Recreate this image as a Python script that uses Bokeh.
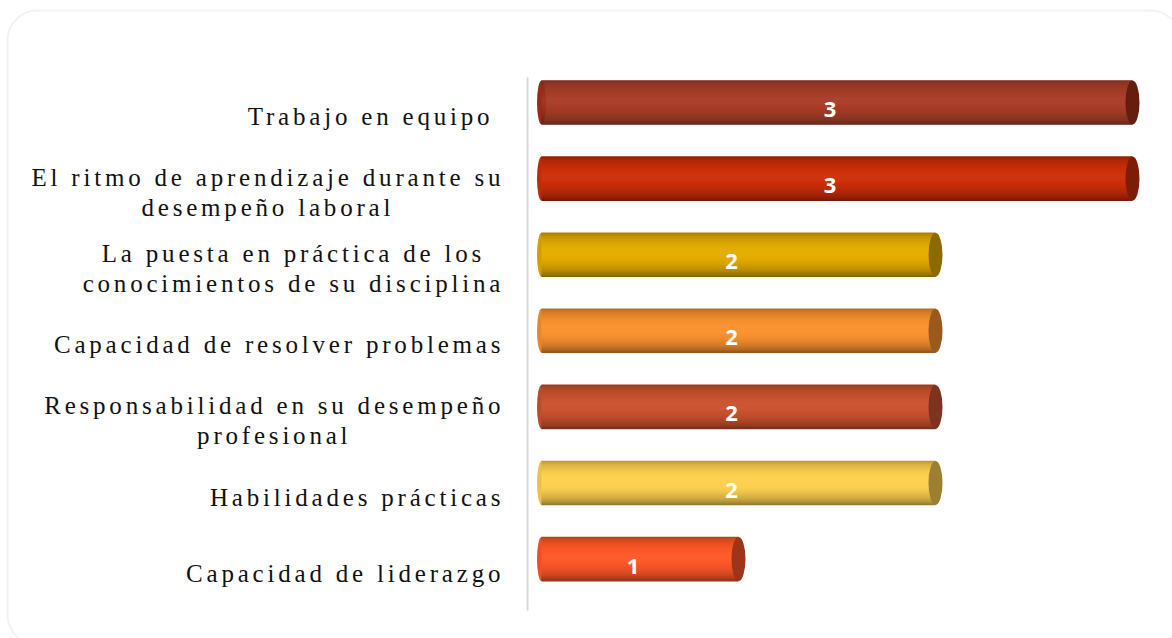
from bokeh.plotting import figure
from bokeh.models import Range1d, BoxAnnotation, LinearAxis, ColumnDataSource, FixedTicker
from bokeh.core.properties import value
from bokeh.embed import file_html
from bokeh.resources import INLINE

# ---- data ----
categories = [
    "Trabajo en equipo ",
    "El ritmo de aprendizaje durante su\ndesempeño laboral",
    "La puesta en práctica de los\nconocimientos de su disciplina",
    "Capacidad de resolver problemas",
    "Responsabilidad en su desempeño\nprofesional",
    "Habilidades prácticas",
    "Capacidad de liderazgo",
]
values = [3, 3, 2, 2, 2, 2, 1]
value_labels = ["3", "3", "2", "2", "2", "2", "1"]
bar_colors = ["#A3301A", "#CC2F0A", "#E3AC00", "#F99230", "#CB5330", "#FDD050", "#FE5828"]

# ---- layout constants (pixels) ----
W, H = 1172, 638
X0_PX, UNIT_PX = 541, 197.0
Y0_PX, STEP_PX = 102, 76.1
BAR_PX = 44
LABEL_FONT_PX = 25
LETTER_SP = 3.8
LABEL_RIGHT_PX = 500
LINE_GAP_PX = 30
BASELINE_SHIFT_PX = 14

def xd(px):
    return (px - X0_PX) / UNIT_PX

def yd(py):
    return (py - Y0_PX) / STEP_PX

# Times / Liberation Serif advance widths (1/1000 em) for measuring labels
TIMES_W = {
    " ": 250, "a": 444, "b": 500, "c": 444, "d": 500, "e": 444, "f": 333, "g": 500,
    "h": 500, "i": 278, "j": 278, "k": 500, "l": 278, "m": 778, "n": 500, "o": 500,
    "p": 500, "q": 500, "r": 333, "s": 389, "t": 278, "u": 500, "v": 500, "w": 722,
    "x": 500, "y": 500, "z": 444, "á": 444, "é": 444, "í": 278, "ó": 500, "ú": 500,
    "ñ": 500, "C": 667, "E": 611, "H": 722, "L": 611, "R": 667, "T": 611,
}

def text_px(s):
    return sum(TIMES_W.get(ch, 500) for ch in s) * LABEL_FONT_PX / 1000.0 + LETTER_SP * (len(s) - 1)

ypos = list(range(len(categories)))
bar_h = BAR_PX / STEP_PX

p = figure(width=W, height=H, output_backend="svg", toolbar_location=None,
           x_axis_location=None, y_axis_location=None,
           x_range=Range1d(xd(0), xd(W)), y_range=Range1d(yd(H), yd(0)),
           min_border=0, min_border_left=0, min_border_right=0,
           min_border_top=0, min_border_bottom=0)
p.outline_line_color = None
p.background_fill_color = "white"
p.border_fill_color = "white"
p.xgrid.grid_line_color = None
p.ygrid.grid_line_color = None
p.styles = {"letter-spacing": "%.1fpx" % LETTER_SP}

def shade(hexc, f):
    r, g, b = int(hexc[1:3], 16), int(hexc[3:5], 16), int(hexc[5:7], 16)
    if f >= 1:
        t = f - 1
        r, g, b = r + (255 - r) * t, g + (255 - g) * t, b + (255 - b) * t
    else:
        r, g, b = r * f, g * f, b * f
    return "#%02x%02x%02x" % (int(max(0, min(255, r))), int(max(0, min(255, g))), int(max(0, min(255, b))))

# left end caps
p.ellipse(x=[0] * len(values), y=ypos, width=xd(X0_PX + 9) - xd(X0_PX), height=bar_h,
          fill_color=[shade(c, 0.93) for c in bar_colors], line_color=None)

# cylinder body as smooth gradient strips (shading profile top -> bottom)
keys = [(0.0, 0.72), (0.08, 0.85), (0.25, 0.97), (0.42, 1.03), (0.55, 1.02),
        (0.7, 0.95), (0.85, 0.83), (0.95, 0.69), (1.0, 0.57)]

def profile(t):
    for (t0, f0), (t1, f1) in zip(keys[:-1], keys[1:]):
        if t0 <= t <= t1:
            return f0 + (f1 - f0) * (t - t0) / (t1 - t0)
    return keys[-1][1]

n = 44
sh = bar_h / n
for k in range(n):
    t = (k + 0.5) / n
    f = profile(t)
    off = -bar_h / 2 + (k + 0.5) * sh
    src = ColumnDataSource(dict(
        y=[yy + off for yy in ypos],
        right=values,
        color=[shade(c, f) for c in bar_colors],
    ))
    p.hbar(y="y", height=sh * 1.6, left=0, right="right", fill_color="color",
           line_color=None, source=src)

# right end caps
p.ellipse(x=values, y=ypos, width=xd(X0_PX + 14) - xd(X0_PX), height=bar_h,
          fill_color=[shade(c, 0.62) for c in bar_colors], line_color=None)

# value labels
p.text(x=[v / 2 for v in values], y=ypos, text=value_labels,
       text_color="white", text_font=value("Open Sans"), text_font_style="bold",
       text_font_size="22px", text_align="center", text_baseline="middle",
       x_offset=-7, y_offset=7)

# category labels: each block right-aligned, its lines centred under each other
lx, ly, lt, loff = [], [], [], []
for i, cat in enumerate(categories):
    lines = cat.split("\n")
    widths = [text_px(s) for s in lines]
    block_w = max(widths)
    centre_px = LABEL_RIGHT_PX - block_w / 2
    nl = len(lines)
    for j, (s, w) in enumerate(zip(lines, widths)):
        lx.append(xd(centre_px - w / 2))
        ly.append(ypos[i])
        lt.append(s)
        loff.append(BASELINE_SHIFT_PX + (j - (nl - 1) / 2) * LINE_GAP_PX)
lsrc = ColumnDataSource(dict(x=lx, y=ly, text=lt, yoff=loff))
p.text(x="x", y="y", text="text", y_offset="yoff", source=lsrc,
       text_align="left", text_baseline="alphabetic",
       text_font=value("Liberation Serif"), text_font_size="%dpx" % LABEL_FONT_PX,
       text_color="#111111")

# vertical axis line
ax = LinearAxis(fixed_location=xd(527), bounds=(yd(77), yd(610)))
ax.ticker = FixedTicker(ticks=[])
ax.axis_line_color = "#d9d9d9"
ax.axis_line_width = 2
ax.major_tick_line_color = None
ax.minor_tick_line_color = None
p.add_layout(ax, "left")

# rounded chart border
box = BoxAnnotation(left=xd(7), right=xd(W + 8), top=yd(10), bottom=yd(H + 6),
                    fill_alpha=0, line_color="#d4d4d4", line_width=2,
                    border_radius=30)
p.add_layout(box)

open("out.html", "w").write(file_html(p, INLINE))
